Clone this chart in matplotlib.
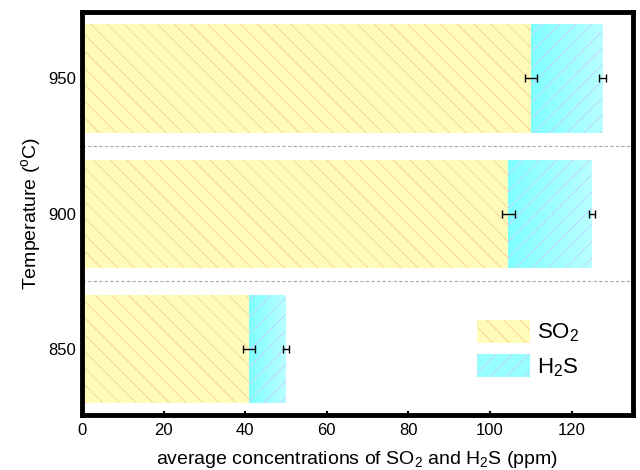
import numpy as np
import matplotlib
matplotlib.use("Agg")
import matplotlib.pyplot as plt
from matplotlib.patches import Patch

plt.rcParams['font.family'] = ['Liberation Sans', 'DejaVu Sans']
plt.rcParams['mathtext.fontset'] = 'custom'
plt.rcParams['mathtext.rm'] = 'Liberation Sans'
plt.rcParams['mathtext.it'] = 'Liberation Sans'
plt.rcParams['hatch.linewidth'] = 0.7

temps = ['850', '900', '950']
so2 = [41, 104.5, 110]
h2s = [9, 20.5, 17.5]
so2_err = [1.5, 1.5, 1.5]
h2s_err = [0.8, 0.8, 0.8]

yellow = '#fffbb8'
yellow_hatch = '#fad496'
cyan = '#a6ffff'
cyan_hatch = '#c0d4ff'

fig = plt.figure(figsize=(6.4, 4.7), dpi=100)
ax = fig.add_axes([0.128, 0.117, 0.861, 0.857])

pos = np.arange(len(temps))
totals = np.array(so2) + np.array(h2s)

ax.barh(pos, so2, height=0.8, color=yellow, edgecolor=yellow_hatch,
        hatch='\\\\', linewidth=0, zorder=2)
h2s_bars = ax.barh(pos, h2s, left=so2, height=0.8, color=cyan,
                   edgecolor=cyan_hatch, hatch='//', linewidth=0, zorder=2)

# cyan bars fade from left to right
grad = np.linspace(0, 1, 64).reshape(1, -1)
cmap = matplotlib.colors.LinearSegmentedColormap.from_list('c', ['#80ffff', '#b8ffff'])
for b in h2s_bars:
    x0, y0 = b.get_x(), b.get_y()
    im = ax.imshow(grad, cmap=cmap, aspect='auto', zorder=2.5,
                   extent=[x0, x0 + b.get_width(), y0, y0 + b.get_height()])
    im.set_clip_path(b)
    hp = plt.Rectangle((x0, y0), b.get_width(), b.get_height(), fill=False,
                       hatch='//', edgecolor=cyan_hatch, linewidth=0, zorder=3)
    ax.add_patch(hp)

ax.errorbar(so2, pos, xerr=so2_err, fmt='none', ecolor='black',
            elinewidth=1, capsize=3, capthick=1, zorder=4)
ax.errorbar(totals, pos, xerr=h2s_err, fmt='none', ecolor='black',
            elinewidth=1, capsize=3, capthick=1, zorder=4)

for y in pos[:-1] + 0.5:
    ax.axhline(y, color='#aaaaaa', linestyle=(0, (3, 2)), linewidth=0.8, zorder=1)

ax.set_xlim(0, 135)
ax.set_ylim(-0.49, 2.49)
ax.set_yticks(pos)
ax.set_yticklabels(temps)
ax.set_xticks(np.arange(0, 121, 20))
ax.tick_params(axis='x', direction='in', length=3, width=1.5, labelsize=12, pad=6)
ax.tick_params(axis='y', length=0, labelsize=12, pad=4)
for s in ax.spines.values():
    s.set_linewidth(3.5)

ax.set_xlabel('average concentrations of SO$_2$ and H$_2$S (ppm)', fontsize=14, labelpad=8)
ax.set_ylabel('Temperature ($^{\\mathrm{o}}$C)', fontsize=14, labelpad=4)

handles = [Patch(facecolor=yellow, edgecolor=yellow_hatch, hatch='\\\\', linewidth=0),
           Patch(facecolor='#98ffff', edgecolor=cyan_hatch, hatch='//', linewidth=0)]
ax.legend(handles, ['SO$_2$', 'H$_2$S'], loc='lower left', bbox_to_anchor=(0.68, 0.04),
          frameon=False, fontsize=16, handlelength=2.4, handleheight=1.2,
          handletextpad=0.3, labelspacing=0.45)

fig.savefig('out.png', dpi=100)
